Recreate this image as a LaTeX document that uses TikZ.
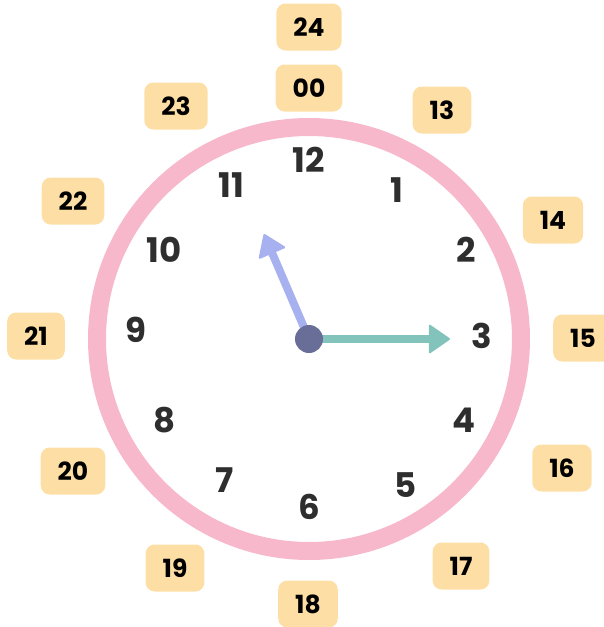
\documentclass[tikz,border=0pt]{standalone}
\usepackage{fontspec}
\setmainfont{Poppins}
\usetikzlibrary{arrows.meta}
\definecolor{dialRing}{HTML}{F7B8CB}
\definecolor{dialBadge}{HTML}{FDDFA5}
\definecolor{dialText}{HTML}{2E2E2E}
\definecolor{handHour}{HTML}{A7B1EF}
\definecolor{handMinute}{HTML}{82C4BB}
\definecolor{handHub}{HTML}{686E97}

\begin{document}
\begin{tikzpicture}[x=1pt, y=-1pt,
  badge/.style={fill=dialBadge, rounded corners=9pt, minimum height=47pt, minimum width=55pt, inner xsep=17pt, font=\fontsize{25}{25}\selectfont\bfseries},
  hournum/.style={text=dialText, font=\fontsize{34}{34}\selectfont\bfseries},
  hand/.style={line width=8pt, -{Triangle[length=22pt, width=30pt, line width=2pt, round]}}]
  \useasboundingbox (0,0) rectangle (604,627);

  % Dial ring
  \draw[dialRing, line width=18pt] (309,339) circle (212pt);

  % Hour numbers on the dial
  \node[hournum] (n12) at (309,160) {12};
  \node[hournum] (n1) at (397,190) {1};
  \node[hournum] (n2) at (466,250) {2};
  \node[hournum] (n3) at (482,336) {3};
  \node[hournum] (n4) at (464,420) {4};
  \node[hournum] (n5) at (406,485) {5};
  \node[hournum] (n6) at (309,507) {6};
  \node[hournum] (n7) at (225,480) {7};
  \node[hournum] (n8) at (165,420) {8};
  \node[hournum] (n9) at (136,330) {9};
  \node[hournum] (n10) at (164,250) {10};
  \node[hournum] (n11) at (231,185) {11};

  % 24-hour badges
  \node[badge] (b24) at (309,27) {24};
  \node[badge] (b00) at (309,88) {00};
  \node[badge] (b13) at (442,110) {13};
  \node[badge] (b14) at (553,220) {14};
  \node[badge] (b15) at (583,338) {15};
  \node[badge] (b16) at (562,468) {16};
  \node[badge] (b17) at (461,566) {17};
  \node[badge] (b18) at (308,604) {18};
  \node[badge] (b19) at (175,568) {19};
  \node[badge] (b20) at (73,471) {20};
  \node[badge] (b21) at (36,336) {21};
  \node[badge] (b22) at (73,201) {22};
  \node[badge] (b23) at (176,106) {23};

  % Hands
  \coordinate (centre) at (309,339);
  \coordinate (hourTip) at (264,234);
  \coordinate (minuteTip) at (450,339);
  \draw[hand, handHour] (centre) -- (hourTip);
  \draw[hand, handMinute] (centre) -- (minuteTip);
  \node[circle, fill=handHub, minimum size=28pt, inner sep=0pt] (hub) at (centre) {};
\end{tikzpicture}
\end{document}
